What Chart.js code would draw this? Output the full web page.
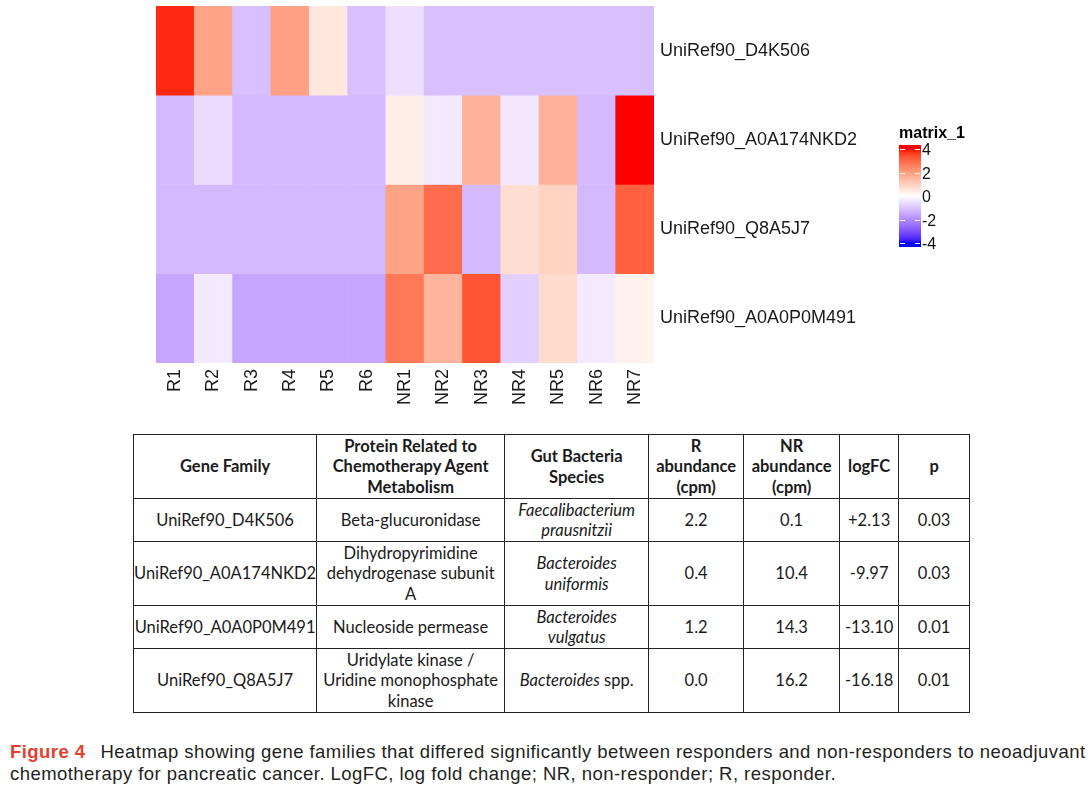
<!DOCTYPE html>
<html><head><meta charset="utf-8">
<script src="https://cdn.jsdelivr.net/npm/chart.js@4.4.0/dist/chart.umd.min.js"></script>
<style>
html,body{margin:0;padding:0;background:#fff;}
body{width:1092px;height:799px;position:relative;overflow:hidden;font-family:"Liberation Sans",Arial,sans-serif;}
#wrap{position:absolute;left:0;top:0;width:1092px;height:432px;}
#tbl{position:absolute;left:133px;top:434px;border-collapse:collapse;table-layout:fixed;font-family:Lato,"Open Sans",sans-serif;font-size:16.5px;color:#1a1a1a;}
#tbl td,#tbl th{border:1.5px solid #222;text-align:center;vertical-align:middle;padding:0;line-height:20.5px;white-space:nowrap;overflow:visible;}
#tbl th{font-weight:bold;}
#cap{position:absolute;left:10px;top:741px;font-size:18.5px;letter-spacing:0.45px;line-height:22px;color:#231f20;white-space:nowrap;font-family:"Liberation Sans",Arial,sans-serif;}
#cap b{color:#e2402c;}
</style></head>
<body>
<div id="wrap"><canvas id="c" width="1092" height="432"></canvas></div>
<table id="tbl"></table>
<div id="cap"><b>Figure 4</b><span style="margin-left:15px">Heatmap showing gene families that differed significantly between responders and non-responders to neoadjuvant</span><br>chemotherapy for pancreatic cancer. LogFC, log fold change; NR, non-responder; R, responder.</div>
<script>
// ---- heatmap data ----
const samples = ['R1','R2','R3','R4','R5','R6','NR1','NR2','NR3','NR4','NR5','NR6','NR7'];
const genes = ['UniRef90_D4K506','UniRef90_A0A174NKD2','UniRef90_Q8A5J7','UniRef90_A0A0P0M491'];
const row_D4K506     = [3.8, 1.9, -1.1, 1.95, 0.5, -1.1, -0.55, -1.1, -1.1, -1.1, -1.1, -1.1, -1.1];
const row_A0A174NKD2 = [-1.2, -0.6, -1.2, -1.2, -1.2, -1.2, 0.35, -0.35, 1.6, -0.4, 1.6, -1.2, 4.0];
const row_Q8A5J7     = [-1.2, -1.2, -1.2, -1.2, -1.2, -1.2, 1.9, 2.9, -1.2, 0.7, 0.95, -1.2, 3.1];
const row_A0A0P0M491 = [-1.55, -0.35, -1.55, -1.55, -1.55, -1.55, 2.7, 1.55, 3.3, -0.8, 0.75, -0.35, 0.3];
const matrixRows = [row_D4K506, row_A0A174NKD2, row_Q8A5J7, row_A0A0P0M491];
const legendTicks = [4, 2, 0, -2, -4];

// ---- table data ----
const tblHeader = ['Gene Family','Protein Related to<br>Chemotherapy Agent<br>Metabolism','Gut Bacteria<br>Species','R<br>abundance<br>(cpm)','NR<br>abundance<br>(cpm)','logFC','p'];
const tblGene = ['UniRef90_D4K506','UniRef90_A0A174NKD2','UniRef90_A0A0P0M491','UniRef90_Q8A5J7'];
const tblProtein = ['Beta-glucuronidase','Dihydropyrimidine<br>dehydrogenase subunit<br>A','Nucleoside permease','Uridylate kinase /<br>Uridine monophosphate<br>kinase'];
const tblSpecies = ['<i>Faecalibacterium</i><br><i>prausnitzii</i>','<i>Bacteroides</i><br><i>uniformis</i>','<i>Bacteroides</i><br><i>vulgatus</i>','<i>Bacteroides</i> spp.'];
const tblR = ['2.2','0.4','1.2','0.0'];
const tblNR = ['0.1','10.4','14.3','16.2'];
const tblLogFC = ['+2.13','-9.97','-13.10','-16.18'];
const tblP = ['0.03','0.03','0.01','0.01'];
const colWidths = [183,188,144,95,96,59,71];
const rowHeights = [64,43,64,43,64];

// build table
(function(){
  const t = document.getElementById('tbl');
  let h = '<colgroup>' + colWidths.map(w=>`<col style="width:${w}px">`).join('') + '</colgroup>';
  h += `<tr style="height:${rowHeights[0]}px">` + tblHeader.map(x=>`<th>${x}</th>`).join('') + '</tr>';
  for (let i=0;i<tblGene.length;i++){
    h += `<tr style="height:${rowHeights[i+1]}px"><td>${tblGene[i]}</td><td>${tblProtein[i]}</td><td>${tblSpecies[i]}</td><td>${tblR[i]}</td><td>${tblNR[i]}</td><td>${tblLogFC[i]}</td><td>${tblP[i]}</td></tr>`;
  }
  t.innerHTML = h;
})();

// ---- colour scale (blue - white - red, LAB interpolation) ----
function srgb2lin(c){c/=255;return c<=0.04045?c/12.92:Math.pow((c+0.055)/1.055,2.4);}
function lin2srgb(c){c=Math.max(0,Math.min(1,c));return Math.round(255*(c<=0.0031308?12.92*c:1.055*Math.pow(c,1/2.4)-0.055));}
function rgb2lab(r,g,b){
  r=srgb2lin(r);g=srgb2lin(g);b=srgb2lin(b);
  let X=(0.4124*r+0.3576*g+0.1805*b)/0.95047, Y=(0.2126*r+0.7152*g+0.0722*b), Z=(0.0193*r+0.1192*g+0.9505*b)/1.08883;
  const f=t=>t>0.008856?Math.cbrt(t):(7.787*t+16/116);
  const fx=f(X),fy=f(Y),fz=f(Z);
  return [116*fy-16,500*(fx-fy),200*(fy-fz)];
}
function lab2rgb(L,a,b){
  const fy=(L+16)/116, fx=fy+a/500, fz=fy-b/200;
  const finv=t=>t*t*t>0.008856?t*t*t:(t-16/116)/7.787;
  const X=0.95047*finv(fx),Y=finv(fy),Z=1.08883*finv(fz);
  const r=3.2406*X-1.5372*Y-0.4986*Z, g=-0.9689*X+1.8758*Y+0.0415*Z, bb=0.0557*X-0.2040*Y+1.0570*Z;
  return [lin2srgb(r),lin2srgb(g),lin2srgb(bb)];
}
const labBlue=rgb2lab(0,0,255), labWhite=rgb2lab(255,255,255), labRed=rgb2lab(255,0,0);
function colorFor(v){
  v=Math.max(-4,Math.min(4,v));
  let A,B,t;
  if(v<0){A=labWhite;B=labBlue;t=-v/4;}else{A=labWhite;B=labRed;t=v/4;}
  const c=lab2rgb(A[0]+(B[0]-A[0])*t,A[1]+(B[1]-A[1])*t,A[2]+(B[2]-A[2])*t);
  return `rgb(${c[0]},${c[1]},${c[2]})`;
}

const datasets = matrixRows.map((row,i)=>({
  label: genes[i],
  data: samples.map(()=>1),
  backgroundColor: row.map(colorFor),
  borderWidth: 0,
  barPercentage: 1,
  categoryPercentage: 1
}));

const colorBarPlugin = {
  id:'colorBar',
  afterDraw(chart){
    const ctx=chart.ctx, area=chart.chartArea;
    const x0=area.right+245, w=22;
    const yTop=149, yBot=243; // positions of +4 and -4
    ctx.save();
    ctx.fillStyle='#000';
    ctx.font='bold 16px "Liberation Sans", Arial, sans-serif';
    ctx.textBaseline='alphabetic';
    ctx.fillText('matrix_1', x0, 138);
    const grad=ctx.createLinearGradient(0,yTop,0,yBot);
    for(let k=0;k<=32;k++){const v=4-8*k/32;grad.addColorStop(k/32,colorFor(v));}
    ctx.fillStyle=colorFor(4); ctx.fillRect(x0,145,w,yTop-145);
    ctx.fillStyle=colorFor(-4); ctx.fillRect(x0,yBot,w,247-yBot);
    ctx.fillStyle=grad; ctx.fillRect(x0,yTop,w,yBot-yTop);
    ctx.strokeStyle='#fff'; ctx.lineWidth=1;
    ctx.font='16px "Liberation Sans", Arial, sans-serif';
    ctx.textBaseline='middle';
    ctx.fillStyle='#111';
    legendTicks.forEach(v=>{
      const y=Math.round(yTop+(4-v)/8*(yBot-yTop))+0.5;
      ctx.beginPath();ctx.moveTo(x0+1,y);ctx.lineTo(x0+6,y);ctx.moveTo(x0+w-6,y);ctx.lineTo(x0+w-1,y);ctx.stroke();
      ctx.fillText(String(v), x0+w+1, y+1);
    });
    ctx.restore();
  }
};

new Chart(document.getElementById('c'),{
  type:'bar',
  data:{labels:samples,datasets},
  options:{
    responsive:false,animation:false,
    layout:{padding:{left:156,top:6,right:0,bottom:0}},
    plugins:{legend:{display:false},tooltip:{enabled:false}},
    scales:{
      x:{stacked:true,grid:{display:false,drawTicks:false},border:{display:false},
         ticks:{maxRotation:90,minRotation:90,padding:6,color:'#1a1a1a',font:{family:'"Liberation Sans", Arial, sans-serif',size:18}},
         afterFit(s){s.height=432-363;s.paddingLeft=0;s.paddingRight=0;}},
      y:{stacked:true,reverse:true,position:'right',min:0,max:4,
         grid:{display:false,drawTicks:false},border:{display:false},
         afterBuildTicks(axis){axis.ticks=genes.map((g,i)=>({value:i+0.5}));},
         ticks:{padding:6,color:'#1a1a1a',font:{family:'"Liberation Sans", Arial, sans-serif',size:18},
                callback:(v,i)=>genes[i]},
         afterFit(s){s.width=1092-654;s.paddingTop=0;s.paddingBottom=0;}}
    }
  },
  plugins:[colorBarPlugin]
});
</script>
</body></html>
